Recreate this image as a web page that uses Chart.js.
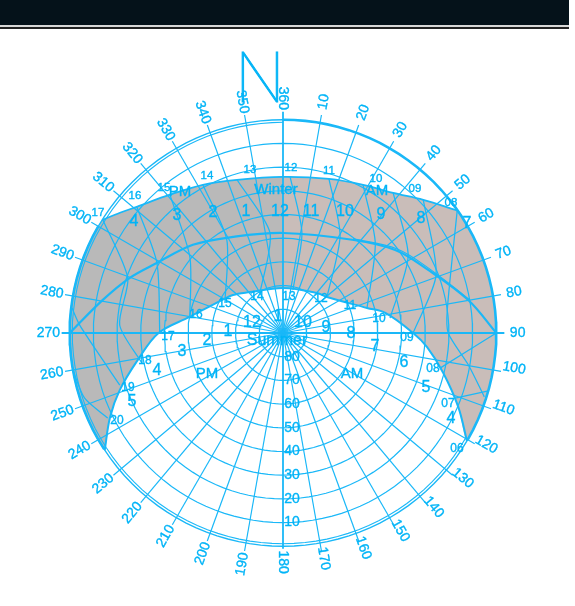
<!DOCTYPE html>
<html>
<head>
<meta charset="utf-8">
<title>Sun path diagram</title>
<script src="https://cdn.jsdelivr.net/npm/chart.js"></script>
<style>
html, body { margin:0; padding:0; background:#fff; width:575px; height:606px; overflow:hidden; }
#top { position:absolute; left:0; top:0; width:569px; height:25px; background:#05121a; }
#rule1 { position:absolute; left:0; top:25px; width:569px; height:2px; background:#d8d8d8; }
#rule2 { position:absolute; left:0; top:27px; width:569px; height:2px; background:#222; }
#chart { position:absolute; left:0; top:0; }
</style>
</head>
<body>
<canvas id="chart" width="575" height="606"></canvas>
<div id="top"></div><div id="rule1"></div><div id="rule2"></div>
<script>
// all paths are [azimuth, altitude] in degrees
var altRings = [10, 20, 30, 40, 50, 60, 70, 80];
var azLines = [10, 20, 30, 40, 50, 60, 70, 80, 90, 100, 110, 120, 130, 140, 150, 160, 170, 180,
               190, 200, 210, 220, 230, 240, 250, 260, 270, 280, 290, 300, 310, 320, 330, 340, 350, 360];

var winterPath = [[302,0],[306.4,4.5],[310.8,8.5],[320.7,14.6],[331.6,18.9],[343.3,22.5],[360,24.1],
                  [16.6,22.1],[28.4,18.9],[38.2,14.8],[46.5,8.4],[55,0]];
var equinoxPath = [[270,0],[280.4,12.7],[289.8,21.3],[299,29.1],[314.4,36.8],[332.5,44.3],[360,47.8],
                   [36.6,41],[53.5,31.1],[66.5,23.2],[79.9,10.6],[90,0]];
var equinoxBundle = [[36.6,40.4],[53.5,30.3],[66.5,22.4],[79.9,10]];
var summerPath = [[236.7,0],[244,8.8],[250.7,17],[259.5,27.7],[270,37.5],[279.8,50],[291.8,58],[307.2,63.5],
                  [321,67.8],[360,71],[40.4,67.8],[50.7,66],[73.4,53],[78.9,46],[90,35.1],[95.6,28.9],
                  [104,20.3],[112.9,9.7],[120.4,0]];

var hour17 = [[302.1,0.3],[289.5,20.5],[272.8,21],[258,29.1]];
var hour16 = [[310.8,8.5],[299.1,29.1],[270,38]];
var hour15 = [[320.7,14.7],[309.2,39.3],[279.8,50.1]];
var hour14 = [[331.6,19],[328.9,44.1],[297.4,62.4]];
var hour13 = [[343.3,22.5],[352.6,47.4],[330.1,70.5]];
var hour12 = [[2.6,24],[10.7,47],[13,71.3]];
var hour11 = [[16.6,22.1],[30.4,42.4],[50.7,66]];
var hour10 = [[28.4,19],[45.7,35.6],[73.4,53]];
var hour09 = [[38.1,14.7],[58.4,28],[82.1,44.4]];
var hour08 = [[46.5,8.4],[69.2,20.9],[90,35.1]];
var hour07 = [[55,0.3],[82,20],[90,20.3],[99.8,10.6],[107.6,0.9]];
var tail08 = [[90,0],[102.6,22.1]];
var tail07 = [[110.7,12.3],[105.9,0.4]];
var tail19 = [[252.3,17.7],[261.5,13.1],[272.3,4.1],[276.8,0.3]];
var tail20 = [[244.1,7.8],[251.8,1.9],[260,0]];
var hourLines = [hour17, hour16, hour15, hour14, hour13, hour12, hour11, hour10, hour09, hour08, hour07,
                 tail08, tail07, tail19, tail20];

// text: label, centre x, centre y in page pixels
var winterHours = [['17',98,213],['16',135,196],['15',164,188],['14',207,176],['13',250,170],['12',291,168],
                   ['11',329,171],['10',376,179],['09',415,189],['08',451,203]];
var summerHours = [['20',117,421],['19',128,388],['18',145,361],['17',168,337],['16',196,315],['15',225,304],
                   ['14',257,297],['13',289,297],['12',321,299],['11',350,306],['10',379,319],['09',407,338],
                   ['08',433,369],['07',448,404],['06',457,449]];
var upperNumbers = [['4',134,222],['3',177,216],['2',213,213],['1',246,212],['12',280,212],['11',311,212],
                    ['10',345,212],['9',381,215],['8',421,219],['7',467,224]];
var lowerNumbers = [['5',132,402],['4',157,371],['3',182,352],['2',207,341],['1',228,332],['12',252,323],
                    ['1',278,317],['10',303,323],['9',326,328],['8',351,334],['7',375,347],['6',404,363],
                    ['5',426,388],['4',451,419]];
var words = [['PM',180,192],['Winter',276,190],['AM',377,191],['Summer',277,341],['PM',207,374],['AM',352,374]];

var BLUE = '#1ab8f8';
var INK = '#00b4f7';
var CX = 283, CY = 333, K = 2.37;

function project(az, alt) {
    var a = az * Math.PI / 180, r = 90 - alt;
    return { x: r * Math.sin(a), y: r * Math.cos(a) };
}
function toPoints(list) {
    return list.map(function(p) { return project(p[0], p[1]); });
}
function sweep(from, to, alt) {
    var out = [];
    for (var a = from; a <= to; a += 3) out.push(project(a, alt));
    return out;
}
function lineSet(points, width, tension) {
    return { data: points, showLine: true, pointRadius: 0, borderColor: BLUE, borderWidth: width, tension: tension || 0, fill: false };
}

var canvas = document.getElementById('chart');
var ctx0 = canvas.getContext('2d');
var bandFill = ctx0.createLinearGradient(0, 0, 575, 0);
bandFill.addColorStop(0, '#b9b9b9');
bandFill.addColorStop(0.49, '#b9b9b9');
bandFill.addColorStop(0.492, '#c9bdb9');
bandFill.addColorStop(1, '#c9bdb9');

var sets = [];
// outer rim, drawn heavier round the band
sets.push(lineSet(sweep(0, 120, 0), 2.6));
sets.push(lineSet(sweep(237, 300, 0), 2.6));
sets.push(lineSet(sweep(120, 360, 0), 1.4));
sets.push(lineSet(sweep(120, 360, 1.1), 1.1));
// sun paths
sets.push(lineSet(toPoints(winterPath), 1.8, 0.35));
sets.push(lineSet(toPoints(equinoxPath), 2.2, 0.35));
sets.push(lineSet(toPoints(equinoxBundle), 1.1, 0.35));
sets.push(lineSet(toPoints(summerPath), 2, 0.35));
hourLines.forEach(function(h) { sets.push(lineSet(toPoints(h), 1.25, 0.25)); });
altRings.forEach(function(alt) { sets.push(lineSet(sweep(0, 360, alt), 1.2)); });
azLines.forEach(function(az) {
    var heavy = (az % 90 === 0);
    sets.push(lineSet(toPoints([[az, 90], [az, az === 180 ? -1 : -3.4]]), heavy ? 1.8 : 1.2));
});
// band goes last so it is painted under everything else
var rimAm = [[60,0],[70,0],[80,0],[90,0],[100,0],[110,0]];
var rimPm = [[240,0],[250,0],[260,0],[270,0],[280,0],[290,0]];
var bandOutline = winterPath.concat(rimAm, summerPath.slice().reverse(), rimPm, [winterPath[0]]);
sets.push({ data: toPoints(bandOutline), showLine: true, pointRadius: 0, borderWidth: 0, tension: 0.2,
            backgroundColor: bandFill, fill: 'shape' });

function centered(ctx, txt, x, y, size, rot) {
    ctx.save();
    ctx.translate(x, y);
    if (rot) ctx.rotate(rot * Math.PI / 180);
    ctx.font = size + 'px "Liberation Sans", Arial, sans-serif';
    ctx.textAlign = 'center';
    ctx.textBaseline = 'middle';
    ctx.fillText(txt, 0, 0);
    // the scan has slightly heavy lettering
    ctx.lineWidth = 0.35;
    ctx.strokeText(txt, 0, 0);
    ctx.restore();
}

var labelPlugin = {
    id: 'labels',
    afterDatasetsDraw: function(chart) {
        var ctx = chart.ctx, sx = chart.scales.x, sy = chart.scales.y;
        ctx.save();
        ctx.fillStyle = INK;
        ctx.strokeStyle = INK;
        azLines.forEach(function(az) {
            var p = project(az, -9);
            var rot = az <= 180 ? az - 90 : az - 270;
            // lower right labels sit a little closer in on the original
            var lift = (az >= 100 && az <= 180) ? 5.5 : 0;
            centered(ctx, String(az), sx.getPixelForValue(p.x), sy.getPixelForValue(p.y) - lift, 14, rot);
        });
        altRings.forEach(function(alt) {
            var p = project(180, alt);
            centered(ctx, String(alt), sx.getPixelForValue(p.x) + 9, sy.getPixelForValue(p.y), 14, 0);
        });
        winterHours.forEach(function(t) { centered(ctx, t[0], t[1], t[2], 11.5); });
        summerHours.forEach(function(t) { centered(ctx, t[0], t[1], t[2], 12); });
        upperNumbers.forEach(function(t) { centered(ctx, t[0], t[1], t[2], 16); });
        lowerNumbers.forEach(function(t) { centered(ctx, t[0], t[1], t[2], 16); });
        words.forEach(function(t) { centered(ctx, t[0], t[1], t[2], t[0] === 'Summer' ? 16 : 15); });
        // the big north mark
        ctx.save();
        ctx.translate(260, 81.5);
        ctx.scale(0.96, 1);
        ctx.font = '100 68px Inter, "Liberation Sans", sans-serif';
        ctx.textAlign = 'center';
        ctx.textBaseline = 'middle';
        ctx.lineWidth = 1;
        ctx.fillText('N', 0, 0);
        ctx.strokeText('N', 0, 0);
        ctx.restore();
        ctx.restore();
    }
};

new Chart(canvas, {
    type: 'scatter',
    data: { datasets: sets },
    options: {
        responsive: false,
        animation: false,
        layout: { padding: 0 },
        plugins: { legend: { display: false }, tooltip: { enabled: false } },
        scales: {
            x: { type: 'linear', display: false, min: -CX / K, max: (575 - CX) / K },
            y: { type: 'linear', display: false, min: -(606 - CY) / K, max: CY / K }
        }
    },
    plugins: [labelPlugin]
});
</script>
</body>
</html>
